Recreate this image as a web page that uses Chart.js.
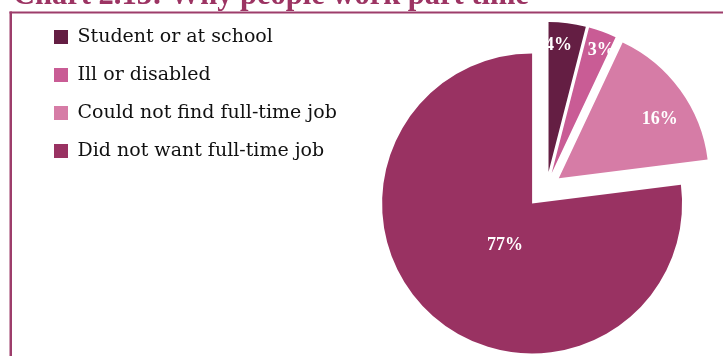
<!DOCTYPE html>
<html>
<head>
<meta charset="utf-8">
<script src="https://cdn.jsdelivr.net/npm/chart.js@4.4.1/dist/chart.umd.min.js"></script>
<style>
  html, body { margin: 0; padding: 0; background: #fff; overflow: hidden; }
  #wrap { position: relative; width: 760px; height: 366px; }
</style>
</head>
<body>
<div id="wrap"><canvas id="reasons" width="760" height="366"></canvas></div>
<script>
var chartTitle = 'Chart 2.13: Why people work part time';
var categories = ['Student or at school', 'Ill or disabled', 'Could not find full-time job', 'Did not want full-time job'];
var shares = [4, 3, 16, 77];
var sliceColors = ['#641e43', '#c95c95', '#d67ca6', '#993262'];

var frameColor = '#9d3d6b';
var titleColor = '#9c3463';

// title bar + left rule of the box the chart sits in
var framePlugin = {
    id: 'frame',
    beforeDraw: function (chart) {
        var ctx = chart.ctx;
        ctx.save();
        ctx.fillStyle = frameColor;
        ctx.fillRect(9.5, 11.5, chart.width, 2);
        ctx.fillRect(9.5, 11.5, 2.5, chart.height);
        ctx.fillStyle = titleColor;
        ctx.font = 'bold 30.5px "Liberation Serif"';
        ctx.textBaseline = 'alphabetic';
        ctx.textAlign = 'left';
        ctx.fillText(chartTitle, 13, 3.5);
        ctx.restore();
    }
};

// pull each slice out along its mid angle
var explodePlugin = {
    id: 'explode',
    afterDatasetsUpdate: function (chart, args, opts) {
        var arcs = chart.getDatasetMeta(0).data;
        arcs.forEach(function (arc, i) {
            var d = opts.distance[i] || 0;
            var mid = (arc.startAngle + arc.endAngle) / 2;
            arc.x += Math.cos(mid) * d;
            arc.y += Math.sin(mid) * d;
        });
    }
};

// white percentage text inside the slices
var sliceLabelPlugin = {
    id: 'sliceLabels',
    afterDatasetsDraw: function (chart, args, opts) {
        var ctx = chart.ctx;
        var values = chart.data.datasets[0].data;
        ctx.save();
        ctx.fillStyle = opts.color;
        ctx.font = opts.font;
        ctx.textAlign = 'center';
        ctx.textBaseline = 'middle';
        chart.getDatasetMeta(0).data.forEach(function (arc, i) {
            var a = arc.startAngle + (arc.endAngle - arc.startAngle) * opts.angular[i];
            var r = arc.outerRadius * opts.radial[i];
            ctx.fillText(values[i] + '%', arc.x + Math.cos(a) * r, arc.y + Math.sin(a) * r);
        });
        ctx.restore();
    }
};

new Chart(document.getElementById('reasons'), {
    type: 'pie',
    data: {
        labels: categories,
        datasets: [{
            data: shares,
            backgroundColor: sliceColors,
            borderWidth: 0
        }]
    },
    options: {
        responsive: false,
        animation: false,
        radius: 150,
        layout: {
            padding: { left: 35, top: 8.5, right: 13.5, bottom: 0.5 }
        },
        plugins: {
            legend: {
                position: 'left',
                align: 'start',
                labels: {
                    boxWidth: 14,
                    boxHeight: 14,
                    padding: 19,
                    color: '#111',
                    font: { family: '"DejaVu Serif"', size: 19 }
                }
            },
            tooltip: { enabled: false },
            explode: { distance: [15, 15, 15, 22] },
            sliceLabels: {
                radial: [0.85, 0.88, 0.78, 0.33],
                angular: [0.31, 0.71, 0.6, 0.47],
                color: '#ffffff',
                font: 'bold 18px "Liberation Serif"'
            }
        }
    },
    plugins: [framePlugin, explodePlugin, sliceLabelPlugin]
});
</script>
</body>
</html>
